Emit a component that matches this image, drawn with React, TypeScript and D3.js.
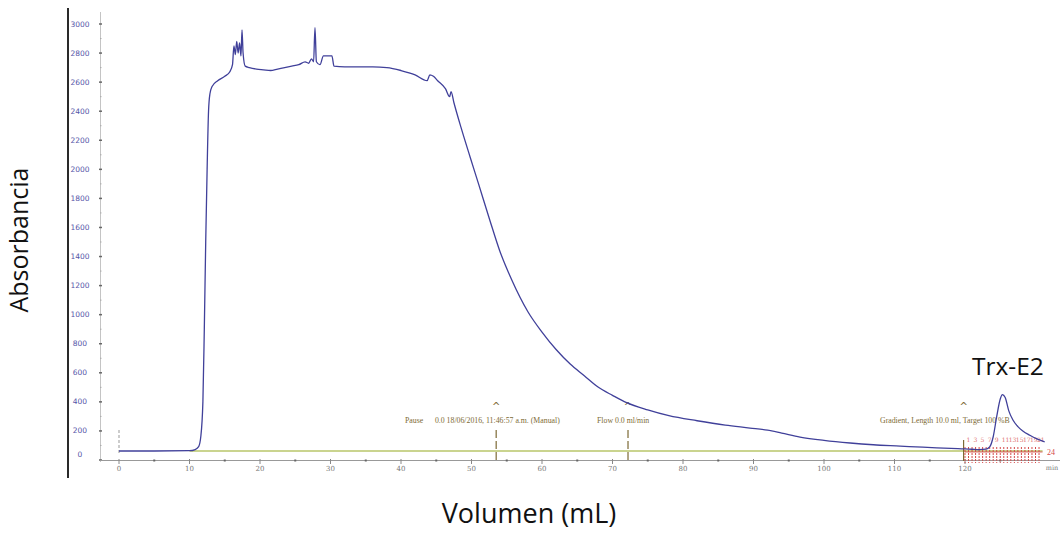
import React from 'react';
import * as d3 from 'd3';

// chromatogram trace (volume in mL, absorbance)
const volumes = [
  0, 5, 10, 10.8, 11.3, 11.6, 11.9, 12.1, 12.3, 12.5, 12.7, 12.9, 13.2, 14, 15, 15.7,
  16.1, 16.3, 16.5, 16.7, 16.9, 17.1, 17.3, 17.45, 17.6, 17.9, 18.5, 19.5, 20.5, 21.5,
  22.5, 23.5, 24.5, 25.5, 26.4, 26.9, 27.3, 27.6, 27.8, 28.0, 28.5, 29, 30.2, 30.5, 32,
  34, 36, 38, 40, 42, 43.7, 44.1, 44.6, 45.2, 46.3, 46.9, 47.1, 47.5, 48.5, 49.8, 51,
  52.6, 54, 55.7, 58, 60, 62, 64, 66, 68, 70, 72, 75, 78, 82, 86, 89.5, 92, 94, 96.6,
  100, 103.7, 107, 110.8, 114, 117, 119, 120, 121, 122, 123, 123.5, 124, 124.5, 125,
  125.3, 125.7, 126.2, 126.8, 127.5, 128.2, 129.2, 130.2, 131.3,
];
const absorbance = [
  62, 62, 64, 72, 92, 160, 400, 900, 1500, 2000, 2400, 2520, 2570, 2610, 2640, 2670,
  2720, 2850, 2790, 2880, 2800, 2870, 2780, 2960, 2800, 2710, 2700, 2690, 2685, 2680,
  2690, 2700, 2710, 2720, 2740, 2730, 2760, 2740, 2975, 2740, 2720, 2780, 2780, 2710, 2705,
  2705, 2705, 2700, 2680, 2650, 2610, 2650, 2640, 2610, 2555, 2500, 2535, 2460, 2290, 2085, 1900,
  1650, 1440, 1240, 1020, 880, 760, 660, 580, 500, 445, 395, 345, 305, 270, 240, 220, 205, 185, 158,
  135, 117, 105, 96, 88, 82, 78, 76, 74, 72, 75, 90, 160, 300, 420,
  450, 430, 340, 275, 230, 200, 170, 145, 124,
];

const yTicks = [0, 200, 400, 600, 800, 1000, 1200, 1400, 1600, 1800, 2000, 2200, 2400, 2600, 2800, 3000];
const xTicks = [0, 10, 20, 30, 40, 50, 60, 70, 80, 90, 100, 110, 120];

// method events (volume, label)
const eventVolumes = [53.5, 72.2, 119.8];
const eventLabels = [
  'Pause      0.0 18/06/2016, 11:46:57 a.m. (Manual)',
  'Flow 0.0 ml/min',
  'Gradient, Length 10.0 ml, Target 100 %B',
];
const fractionMarks = [120, 120.5, 121, 121.5, 122, 122.5, 123, 123.5, 124, 124.5, 125, 125.5, 126, 126.5, 127, 127.5, 128, 128.5, 129, 129.5, 130, 130.5];
const baselineLevel = 62;

export default function App() {
  const x = d3.scaleLinear().domain([0, 120]).range([119, 965]);
  const y = d3.scaleLinear().domain([0, 3000]).range([460, 24]);

  const pts = volumes.map((v, i) => [v, absorbance[i]] as [number, number]);
  const line = d3
    .line<[number, number]>()
    .x((d) => x(d[0]))
    .y((d) => y(d[1]))
    .curve(d3.curveMonotoneX);

  const minorY = d3.range(100, 3000, 200);
  const minorX = d3.range(5, 131, 10);
  const annot = '#7d6a35';

  return (
    <svg width={1063} height={548} style={{ position: 'absolute', left: 0, top: 0, background: '#fff' }}>
      {/* left frame edge */}
      <line x1={68} x2={68} y1={8} y2={478} stroke="#2a2a2a" strokeWidth={2} />
      {/* y axis */}
      <line x1={100.5} x2={100.5} y1={12} y2={462} stroke="#c4c4c4" strokeWidth={1} />
      {yTicks.map((t) => (
        <g key={'y' + t}>
          <line x1={99} x2={102} y1={y(t)} y2={y(t)} stroke="#666" strokeWidth={1.5} />
          <text x={80} y={t === 0 ? y(t) - 3 : y(t) + 2.5} fontSize={7.5} fill="#5555a8" textAnchor="middle" fontFamily="DejaVu Sans">
            {t}
          </text>
        </g>
      ))}
      {minorY.map((t) => (
        <line key={'my' + t} x1={100} x2={101.5} y1={y(t)} y2={y(t)} stroke="#aaa" />
      ))}
      {/* x axis */}
      <line x1={100} x2={1060} y1={460.5} y2={460.5} stroke="#999" strokeWidth={1} />
      {xTicks.map((t) => (
        <g key={'x' + t}>
          <line x1={x(t)} x2={x(t)} y1={459} y2={464} stroke="#888" />
          <text x={x(t)} y={471} fontSize={7} fill="#777" textAnchor="middle" fontFamily="DejaVu Serif">
            {t}
          </text>
        </g>
      ))}
      {minorX.map((t) => (
        <rect key={'mx' + t} x={x(t) - 1} y={459.5} width={2} height={2} fill="#666" />
      ))}
      <text x={1052} y={470} fontSize={6.5} fill="#777" textAnchor="middle" fontFamily="DejaVu Serif">
        min
      </text>

      {/* start marker at 0 */}
      <line x1={x(0)} x2={x(0)} y1={430} y2={455} stroke="#999" strokeDasharray="3,2" />

      {/* baseline (conductivity / %B) */}
      <line x1={x(10)} x2={x(131)} y1={y(baselineLevel)} y2={y(baselineLevel)} stroke="#b9c66a" strokeWidth={1.5} />

      {/* events */}
      {eventVolumes.map((v, i) => (
        <g key={'ev' + i}>
          <line
            x1={x(v)}
            x2={x(v)}
            y1={i === 2 ? 440 : 430}
            y2={461}
            stroke={annot}
            strokeWidth={1.2}
            strokeDasharray={i === 2 ? undefined : '8,3'}
          />
          <text x={x(v)} y={410} fontSize={10} fill={annot} textAnchor="middle" fontFamily="DejaVu Sans">
            ^
          </text>
        </g>
      ))}
      <text x={405} y={423} fontSize={7.8} fill={annot} fontFamily="Liberation Serif" style={{ whiteSpace: 'pre' }}>
        {eventLabels[0]}
      </text>
      <text x={597} y={423} fontSize={7.8} fill={annot} fontFamily="Liberation Serif">
        {eventLabels[1]}
      </text>
      <text x={880} y={423} fontSize={7.8} fill={annot} fontFamily="Liberation Serif">
        {eventLabels[2]}
      </text>

      {/* fractions */}
      {fractionMarks.map((v, i) => (
        <g key={'fr' + i}>
          <line x1={x(v)} x2={x(v)} y1={447} y2={463} stroke="#d44a4a" strokeWidth={1} strokeDasharray="2,1" />
          {i % 2 === 0 && i < fractionMarks.length - 1 ? (
            <text x={x(v) + 1.5} y={442} fontSize={6} fill="#e07070" fontFamily="DejaVu Serif">
              {i + 1}
            </text>
          ) : null}
        </g>
      ))}
      <line x1={x(120)} x2={x(131)} y1={452} y2={452} stroke="#d44a4a" strokeWidth={0.8} />
      <text x={1047} y={455} fontSize={8} fill="#d44a4a" fontFamily="Liberation Serif">
        24
      </text>

      {/* trace */}
      <path d={line(pts) || ''} fill="none" stroke="#40409a" strokeWidth={1.3} strokeLinejoin="round" />

      {/* titles */}
      <text x={972} y={375} fontSize={24.5} fill="#111" fontFamily="Open Sans">
        Trx-E2
      </text>
      <text
        transform="translate(28,240) rotate(-90)"
        fontSize={25}
        fill="#111"
        textAnchor="middle"
        fontFamily="Open Sans"
      >
        Absorbancia
      </text>
      <text x={529} y={523} fontSize={27} fill="#111" textAnchor="middle" fontFamily="Open Sans">
        Volumen (mL)
      </text>
    </svg>
  );
}
